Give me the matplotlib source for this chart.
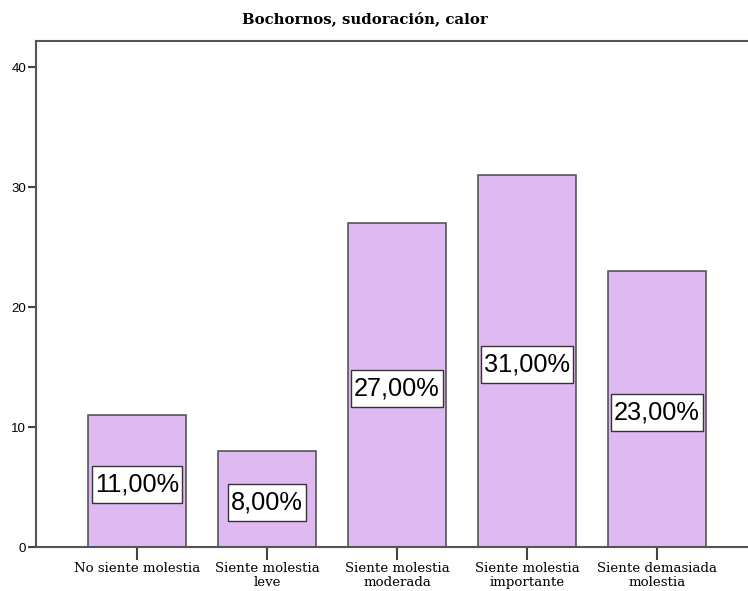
import matplotlib
matplotlib.use("Agg")
import matplotlib.pyplot as plt
import numpy as np
from matplotlib.path import Path

categories = [
    "No siente molestia",
    "Siente molestia\nleve",
    "Siente molestia\nmoderada",
    "Siente molestia\nimportante",
    "Siente demasiada\nmolestia",
]
percentages = [11.0, 8.0, 27.0, 31.0, 23.0]
y_ticks = [0, 10, 20, 30, 40]
title = "Bochornos, sudoración, calor"


def _label_box(x0, y0, width, height, mutation_size):
    # square box, a bit more padding top/bottom than at the sides
    px, py = 0.12 * mutation_size, 0.24 * mutation_size
    x0, y0 = x0 - px, y0 - py
    x1, y1 = x0 + width + 2 * px, y0 + height + 2 * py
    return Path([(x0, y0), (x1, y0), (x1, y1), (x0, y1), (x0, y0)], closed=True)


fig = plt.figure(figsize=(7.48, 5.91), dpi=100)
ax = fig.add_axes([36 / 748, 1 - 547 / 591, 1 - 36 / 748, (547 - 41) / 591])

x = np.arange(len(categories))
ax.bar(x, percentages, width=0.754, color="#DFB9F2", edgecolor="#4a4a4a", linewidth=1.1, zorder=2)

for xi, val in zip(x, percentages):
    label = f"{val:.2f}%".replace(".", ",")
    ax.annotate(label, (xi, val / 2), xytext=(0, -2.5), textcoords="offset points",
                ha="center", va="center", fontsize=18.3,
                family="Liberation Sans", zorder=3,
                bbox=dict(boxstyle=_label_box, facecolor="white",
                          edgecolor="#333333", linewidth=1.0))

ax.set_xlim(-0.777, 4.70)
ax.set_ylim(0, 42.17)
ax.set_xticks(x)
ax.set_xticklabels(categories, family="DejaVu Serif", fontsize=9.6, linespacing=1.05)
ax.set_yticks(y_ticks)
ax.set_yticklabels([str(t) for t in y_ticks], family="Liberation Sans", fontsize=9.5)
ax.tick_params(axis="y", direction="out", length=6, width=1.5, color="#444444", pad=1)
ax.tick_params(axis="x", direction="out", length=9, width=1.5, color="#444444", pad=2)

for side in ("left", "bottom", "top"):
    ax.spines[side].set_color("#555555")
    ax.spines[side].set_linewidth(1.5)
ax.spines["right"].set_visible(False)

fig.text(365 / 748, 1 - 19 / 591, title, ha="center", va="center",
         family="DejaVu Serif", fontweight="bold", fontsize=10.7)

fig.savefig("out.png", dpi=100)
